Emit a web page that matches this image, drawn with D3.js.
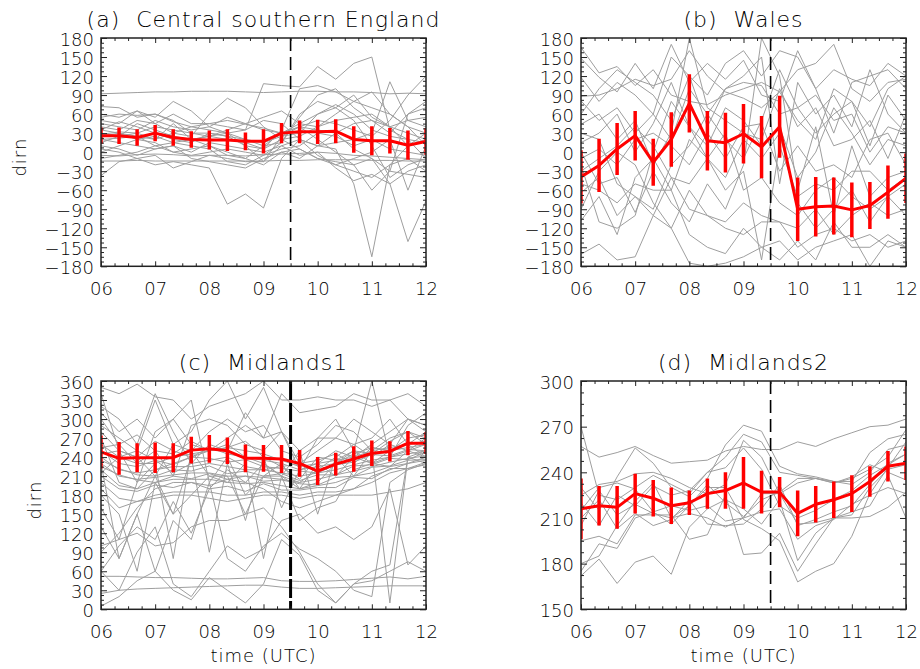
<!DOCTYPE html>
<html lang="en">
<head>
<meta charset="UTF-8">
<title>dirn ensemble</title>
<script src="https://cdn.jsdelivr.net/npm/d3@7"></script>
<style>
    body { margin: 0; background: #fff; }
    text { font-family: "DejaVu Sans", sans-serif; font-weight: 200; fill: #000; }
</style>
</head>
<body>
<div id="mainContent"></div>
<script>
    // ---- data ----
    const times = ["06:00", "06:20", "06:40", "07:00", "07:20", "07:40", "08:00", "08:20", "08:40", "09:00",
        "09:20", "09:40", "10:00", "10:20", "10:40", "11:00", "11:20", "11:40", "12:00"];
    const hourTicks = ["06", "07", "08", "09", "10", "11", "12"];
    const onsetTime = "09:30";

    const dirTicks = [-180, -150, -120, -90, -60, -30, 0, 30, 60, 90, 120, 150, 180];
    const dirTicksC = [0, 30, 60, 90, 120, 150, 180, 210, 240, 270, 300, 330, 360];
    const dirTicksD = [150, 180, 210, 240, 270, 300];

    const meanA = [26, 26, 23, 30, 23, 20, 19, 19, 17, 17, 30, 32, 32, 33, 20, 18, 18, 11, 17];
    const errA = [13, 13, 13, 13, 13, 13, 15, 17, 14, 19, 16, 18, 19, 19, 21, 23, 20, 23, 21];
    const meanB = [-39, -21, 5, 26, -16, 20, 77, 18, 15, 29, 8, 40, -90, -86, -85, -91, -84, -63, -41];
    const errB = [42, 42, 41, 39, 37, 43, 46, 47, 47, 47, 49, 49, 50, 47, 45, 43, 37, 42, 39];
    const meanC = [248, 238, 239, 239, 239, 251, 253, 250, 238, 238, 237, 230, 218, 229, 237, 246, 249, 262, 262];
    const errC = [26, 26, 23, 24, 23, 21, 22, 21, 22, 21, 22, 21, 22, 18, 20, 20, 16, 19, 17];
    const meanD = [216, 218, 217, 226, 223, 218, 220, 226, 228, 233, 227, 227, 213, 219, 222, 226, 234, 244, 246];
    const errD = [20, 13, 14, 13, 12, 12, 8, 10, 12, 17, 14, 10, 15, 12, 12, 12, 10, 10, 11];

    const membersA = [
        [92, 93, 94, 95, 95, 96, 96, 96, 95, 94, 95, 96, 96, 95, 95, 94, 92, 93, 92],
        [-14, -14, -13, -14, -14, -14, -14, -14, -14, -14, -13, -13, -12, -12, -12, -13, -13, -14, -14],
        [-5, -6, -4, -3, -4, -6, -5, -5, -6, -4, -3, -2, 0, -2, -5, -6, -8, -10, -12],
        [72, 70, 55, 60, 48, 40, 45, 50, 44, 38, 30, 45, 60, 75, 60, 35, 25, 20, 15],
        [50, 45, 65, 55, 80, 65, 40, 30, 20, 10, 15, 55, 90, 100, 70, 50, 40, 30, 20],
        [40, 35, 50, 45, 30, 25, 60, 85, 70, 40, 20, 5, -10, -20, -30, -40, -20, -10, -30],
        [35, 48, 40, 30, 20, 15, 30, 25, 10, 5, 35, 100, 105, 95, 80, 70, 60, 40, 30],
        [30, 25, 45, 35, 25, 20, 10, 0, -10, 10, 30, 40, 35, 30, 45, 50, 30, 60, 80],
        [25, 30, 20, 25, 15, 10, 5, -15, -20, -5, 15, 60, 80, 70, 50, 10, -40, -20, -10],
        [20, 15, 10, 5, 10, 0, 15, 10, 5, 0, 10, 20, 10, 5, -50, -165, -20, 10, 30],
        [15, 25, 30, 20, 45, 20, 25, 30, 35, 108, 105, 103, 135, 115, 140, 150, 35, 20, -10],
        [10, 5, -5, 5, 10, -10, -15, -20, -25, -10, 0, 5, -10, -15, -20, -60, -30, -35, -40],
        [5, 0, -10, -5, -25, -15, -5, -10, -15, -15, 10, -5, 0, -25, -45, -35, -50, -141, -77],
        [-37, -15, -10, -20, -15, -20, -25, -82, -66, -88, -10, 20, 10, 15, 20, 30, 111, 50, 40],
        [55, 60, 58, 60, 50, 30, 25, 20, 15, 5, 20, 25, 40, 50, 55, 60, 40, 50, 55],
        [45, 40, 35, 50, 40, 35, 40, 55, 45, 35, 30, 40, 50, 45, 35, 25, 50, 90, 120],
        [28, 32, 30, 40, 35, 30, 30, 25, 20, 15, 25, 30, 60, 70, 90, 55, 40, 10, 20],
        [0, 10, 20, 15, 0, 5, 10, -5, -10, -20, 0, -10, 10, 30, 5, -10, -30, 60, 70],
        [60, 55, 65, 45, 60, 45, 45, 40, 35, 50, 45, 20, -5, -20, -10, 0, 20, -60, 10],
        [-10, -5, 0, 10, 0, -5, 0, 5, 0, -5, 5, 10, 30, 25, 10, 20, 5, 0, -5],
        [20, 22, 25, 20, 30, 40, 35, 30, 10, -15, 25, 40, 20, 0, -20, -10, -50, -30, -20],
        [35, 30, 25, 10, 15, 20, 25, 35, 45, 55, 65, 45, 40, 60, 80, 95, 60, 40, 10]
    ];

    const membersB = [
        [165, 125, 135, 105, 130, 90, 80, 75, 90, 100, 110, 95, 130, 140, 170, 100, 80, 110, 115],
        [148, 118, 95, 140, 100, 170, 110, 140, 115, 145, 90, 80, 160, 100, 130, 115, 105, 140, 120],
        [118, 80, 110, 90, 60, 150, 120, 40, 100, 120, 150, -50, 110, 60, 90, 40, 130, 60, 30],
        [88, 90, 100, 115, 105, 115, 160, 120, 95, 85, 70, 95, 50, 20, 100, 80, 40, 100, 120],
        [81, 50, 70, 30, 60, 20, 100, 60, 100, 110, 105, 60, 70, 90, 50, 60, 0, 40, 30],
        [44, 60, 20, 50, -20, 30, 180, 70, 50, 30, 20, 100, 40, 70, 10, 20, 50, -10, 60],
        [15, 30, 60, 0, 45, 110, 40, 10, 70, 50, 10, 40, -40, 0, 70, 30, -20, 20, 10],
        [-10, 5, -20, 20, 30, 10, -20, 30, -10, 40, 45, -30, 10, -30, -20, -40, 20, 30, -20],
        [-30, -10, 10, 40, 10, -40, -50, -10, -60, -30, -170, 10, -70, -50, -60, -30, -30, -60, -40],
        [-50, -60, -80, -50, -60, -60, 20, -10, 30, -60, -40, -80, -100, -60, -40, -70, -90, -70, -50],
        [-64, -40, -100, -70, -100, -40, -90, -100, -110, -80, -100, -110, -120, -90, -130, -100, -80, -100, -90],
        [-90, -30, 0, -20, -80, -120, -60, -100, -120, -130, -110, -110, -150, -130, -120, -140, -130, -150, -140],
        [-108, -70, -130, -40, -10, -60, -130, -150, -160, -120, -150, -170, -140, -170, -110, -150, -150, -130, -150],
        [-161, -145, -170, -165, -100, -120, -175, -180, -175, -165, -150, -140, -170, -150, -140, -130, -180, -140, -150],
        [30, 20, -50, -70, -90, -20, 10, 60, 20, -10, 50, 130, 70, 30, 60, 80, 10, 90, 50],
        [-20, -110, -120, -100, 0, 80, 40, -10, -40, 20, -10, 30, -80, -120, -90, -60, -110, -70, -100],
        [0, -50, -40, -95, -30, -80, -110, -50, -90, -20, 180, 120, -60, 40, -100, 10, -70, -40, -30],
        [60, 100, 130, 110, 90, 50, 120, 90, 140, 160, 120, 160, 150, 100, 30, 110, 120, 130, 100]
    ];

    const membersC = [
        [52, 52, 51, 50, 50, 49, 48, 48, 49, 50, 45, 44, 44, 45, 47, 49, 51, 48, 52],
        [25, 30, 32, 33, 34, 35, 36, 37, 38, 38, 35, 33, 33, 34, 35, 36, 37, 37, 37],
        [5, 20, 45, 60, 30, 15, 50, 30, 10, 40, 110, 85, 30, 10, 40, 45, 60, 75, 60],
        [60, 30, 90, 130, 40, 20, 60, 100, 80, 95, 140, 150, 120, 130, 110, 130, 190, 70, 100],
        [130, 80, 150, 60, 140, 110, 200, 80, 60, 100, 120, 95, 80, 60, 30, 20, 200, 220, 230],
        [100, 110, 120, 100, 105, 130, 140, 140, 150, 160, 130, 90, 40, 10, 40, 60, 70, 240, 230],
        [350, 340, 355, 335, 330, 300, 320, 330, 340, 360, 330, 330, 335, 330, 330, 320, 330, 300, 290],
        [320, 300, 260, 340, 280, 230, 260, 250, 310, 270, 340, 310, 315, 320, 340, 330, 330, 340, 320],
        [300, 260, 230, 250, 210, 290, 300, 290, 260, 250, 280, 230, 250, 270, 300, 280, 260, 300, 290],
        [280, 250, 240, 210, 260, 250, 280, 300, 280, 290, 250, 240, 260, 290, 280, 250, 270, 280, 260],
        [270, 200, 190, 220, 230, 240, 250, 260, 240, 230, 210, 200, 220, 240, 260, 240, 260, 250, 270],
        [260, 240, 230, 230, 240, 245, 250, 255, 250, 245, 235, 225, 230, 235, 240, 250, 255, 260, 265],
        [250, 230, 225, 235, 228, 240, 238, 232, 236, 225, 222, 218, 215, 228, 232, 244, 242, 252, 250],
        [240, 220, 215, 220, 225, 225, 230, 225, 220, 220, 215, 210, 215, 220, 228, 235, 240, 245, 250],
        [235, 222, 212, 210, 220, 218, 226, 214, 218, 210, 214, 203, 212, 212, 226, 228, 238, 236, 248],
        [230, 210, 205, 208, 212, 215, 215, 210, 210, 208, 205, 200, 205, 212, 218, 225, 232, 238, 242],
        [225, 212, 204, 200, 210, 206, 214, 205, 210, 202, 204, 198, 196, 208, 210, 224, 226, 235, 236],
        [220, 195, 190, 200, 205, 205, 205, 200, 198, 200, 195, 190, 195, 200, 210, 215, 225, 230, 235],
        [210, 190, 186, 196, 192, 200, 190, 194, 186, 198, 188, 188, 192, 192, 208, 206, 222, 222, 232],
        [200, 175, 170, 180, 185, 185, 185, 180, 180, 185, 185, 180, 185, 185, 190, 200, 215, 222, 228],
        [190, 160, 170, 175, 180, 180, 175, 170, 175, 180, 180, 175, 180, 180, 180, 180, 185, 190, 200],
        [180, 150, 60, 200, 150, 240, 90, 230, 140, 240, 160, 220, 230, 250, 240, 230, 250, 260, 240],
        [160, 110, 200, 230, 80, 250, 210, 200, 230, 80, 210, 250, 150, 240, 210, 250, 10, 240, 250],
        [60, 100, 130, 110, 170, 120, 190, 220, 200, 230, 210, 190, 230, 210, 240, 260, 280, 300, 280],
        [290, 270, 250, 330, 260, 280, 330, 360, 300, 350, 280, 250, 270, 300, 250, 230, 240, 290, 310],
        [310, 280, 300, 270, 300, 260, 250, 270, 290, 270, 280, 220, 270, 270, 260, 270, 300, 260, 280],
        [245, 250, 240, 265, 250, 240, 255, 245, 240, 235, 230, 220, 225, 230, 245, 255, 250, 270, 275],
        [255, 260, 275, 250, 245, 265, 250, 255, 265, 240, 225, 205, 240, 235, 250, 245, 265, 280, 270],
        [215, 240, 250, 235, 215, 230, 235, 240, 225, 220, 225, 230, 235, 245, 230, 255, 250, 255, 260],
        [340, 250, 200, 280, 300, 330, 200, 240, 180, 210, 230, 190, 200, 230, 250, 360, 240, 250, 260],
        [90, 120, 160, 190, 200, 200, 195, 205, 200, 190, 170, 160, 170, 180, 190, 210, 220, 230, 240],
        [230, 80, 150, 210, 150, 180, 210, 210, 150, 210, 210, 140, 160, 170, 220, 230, 225, 250, 240]
    ];

    const membersD = [
        [257, 250, 253, 257, 251, 246, 247, 248, 254, 257, 255, 255, 260, 257, 262, 266, 270, 271, 275],
        [270, 225, 222, 230, 238, 232, 226, 240, 250, 265, 260, 240, 238, 236, 233, 236, 242, 250, 268],
        [230, 215, 237, 256, 246, 230, 224, 236, 258, 271, 267, 244, 239, 237, 234, 234, 253, 262, 265],
        [225, 232, 234, 239, 240, 236, 230, 226, 232, 261, 250, 226, 233, 236, 234, 232, 240, 255, 258],
        [220, 205, 225, 218, 231, 225, 228, 240, 243, 256, 242, 218, 210, 215, 222, 228, 238, 245, 252],
        [215, 230, 233, 229, 214, 206, 218, 232, 220, 211, 222, 227, 236, 236, 233, 237, 245, 240, 235],
        [210, 222, 203, 213, 205, 209, 222, 206, 205, 206, 216, 232, 205, 209, 214, 218, 232, 246, 252],
        [205, 228, 212, 219, 213, 210, 213, 210, 204, 210, 214, 216, 196, 205, 209, 219, 225, 230, 226],
        [195, 198, 193, 212, 212, 212, 196, 199, 225, 186, 187, 200, 175, 193, 210, 210, 211, 217, 227],
        [180, 185, 205, 221, 233, 210, 218, 230, 230, 209, 203, 195, 168, 175, 180, 198, 226, 243, 260],
        [172, 183, 167, 181, 185, 173, 204, 216, 222, 216, 206, 222, 182, 200, 210, 214, 218, 238, 210],
        [175, 193, 190, 210, 214, 218, 215, 218, 208, 210, 226, 226, 206, 207, 210, 212, 230, 242, 245]
    ];

    // ---- layout ----
    const W = 920, H = 669;
    const plotW = 325, plotH = 228.3;

    const panels = [
        {id: "a", title: "(a)  Central southern England", left: 101, top: 38,
            yDomain: [-180, 180], yTicks: dirTicks, dirnLabel: true, timeLabel: false,
            members: membersA, mean: meanA, err: errA, bold: false},
        {id: "b", title: "(b)  Wales", left: 581, top: 38,
            yDomain: [-180, 180], yTicks: dirTicks, dirnLabel: false, timeLabel: false,
            members: membersB, mean: meanB, err: errB, bold: false},
        {id: "c", title: "(c)  Midlands1", left: 101, top: 381,
            yDomain: [0, 360], yTicks: dirTicksC, dirnLabel: true, timeLabel: true,
            members: membersC, mean: meanC, err: errC, bold: true},
        {id: "d", title: "(d)  Midlands2", left: 581, top: 381,
            yDomain: [150, 300], yTicks: dirTicksD, dirnLabel: false, timeLabel: true,
            members: membersD, mean: meanD, err: errD, bold: false}
    ];

    const parseHour = s => {
        const p = s.split(":").map(Number);
        return p[0] + (p[1] || 0) / 60;
    };
    const tHours = times.map(parseHour);
    const hourVals = hourTicks.map(h => +h);

    // minor ticks: 4 sub-intervals between majors
    function minorTicks(majors) {
        let out = [];
        for (let i = 0; i < majors.length - 1; i++) {
            const step = (majors[i + 1] - majors[i]) / 4;
            for (let k = 1; k < 4; k++) out.push(majors[i] + k * step);
        }
        return out;
    }

    let svg = d3.select("#mainContent")
        .append("svg")
        .attr("width", W)
        .attr("height", H);

    panels.forEach(p => {
        const x = d3.scaleLinear().domain([6, 12]).range([0, plotW]);
        const y = d3.scaleLinear().domain(p.yDomain).range([plotH, 0]);

        let g = svg.append("g")
            .attr("transform", "translate(" + p.left + "," + p.top + ")");

        g.append("clipPath").attr("id", "clip-" + p.id)
            .append("rect").attr("width", plotW).attr("height", plotH);

        const plot = g.append("g").attr("clip-path", "url(#clip-" + p.id + ")");

        const line = d3.line()
            .x((d, i) => x(tHours[i]))
            .y(d => y(d));

        // ensemble members
        plot.append("g")
            .selectAll("path")
            .data(p.members).enter()
            .append("path")
            .attr("d", line)
            .attr("fill", "none")
            .attr("stroke", "#9e9e9e")
            .attr("stroke-width", 1);

        // onset marker
        const xOn = x(parseHour(onsetTime));
        plot.append("line")
            .attr("x1", xOn).attr("x2", xOn)
            .attr("y1", 0).attr("y2", plotH)
            .attr("stroke", "#000")
            .attr("stroke-width", p.bold ? 3 : 1.6)
            .attr("stroke-dasharray", p.bold ? "19,3" : "13,6");

        // mean and spread
        plot.append("g")
            .selectAll("line")
            .data(p.mean).enter()
            .append("line")
            .attr("x1", (d, i) => x(tHours[i]))
            .attr("x2", (d, i) => x(tHours[i]))
            .attr("y1", (d, i) => y(d - p.err[i]))
            .attr("y2", (d, i) => y(d + p.err[i]))
            .attr("stroke", "#ff0000")
            .attr("stroke-width", 3.5);

        plot.append("path")
            .datum(p.mean)
            .attr("d", line)
            .attr("fill", "none")
            .attr("stroke", "#ff0000")
            .attr("stroke-width", 3)
            .attr("stroke-linejoin", "round");

        // axes, ticks pointing inward on all four sides
        const axes = [
            {gen: d3.axisBottom(x), t: "translate(0," + plotH + ")", major: hourVals, minor: minorTicks(hourVals), len: 5, labels: true},
            {gen: d3.axisTop(x), t: "translate(0,0)", major: hourVals, minor: minorTicks(hourVals), len: 5, labels: false},
            {gen: d3.axisLeft(y), t: "translate(0,0)", major: p.yTicks, minor: minorTicks(p.yTicks), len: 6, labels: true},
            {gen: d3.axisRight(y), t: "translate(" + plotW + ",0)", major: p.yTicks, minor: minorTicks(p.yTicks), len: 6, labels: false}
        ];
        axes.forEach((a, ai) => {
            const gm = g.append("g").attr("transform", a.t)
                .call(a.gen.tickValues(a.minor).tickSize(-3).tickSizeOuter(0).tickFormat(""));
            gm.select(".domain").remove();
            const gM = g.append("g").attr("transform", a.t)
                .call(a.gen.tickValues(a.major).tickSize(-a.len).tickSizeOuter(0)
                    .tickPadding(ai === 0 ? 28.5 : 7)
                    .tickFormat(d => a.labels ? (ai === 0 ? d3.format("02d")(d) : String(d).replace("-", "\u2212")) : ""));
            gM.select(".domain").remove();
            g.selectAll(".tick line").attr("stroke", "#222").attr("stroke-width", 1);
            gM.selectAll("text")
                .attr("font-size", 18)
                .attr("font-family", "DejaVu Sans, sans-serif")
                .attr("font-weight", 200)
                .attr("fill", "#000");
            if (ai === 0) {
                gM.selectAll("text").attr("dy", "0em");
            }
            if (ai === 2) {
                gM.selectAll("text").attr("dy", "0.4em");
            }
        });

        // frame
        g.append("rect")
            .attr("width", plotW).attr("height", plotH)
            .attr("fill", "none")
            .attr("stroke", "#222")
            .attr("stroke-width", 1.5);

        // title
        g.append("text")
            .text(p.title)
            .attr("x", plotW / 2)
            .attr("y", -11)
            .attr("text-anchor", "middle")
            .attr("font-size", 22)
            .attr("letter-spacing", 1)
            .style("white-space", "pre");

        if (p.dirnLabel) {
            let minX = 0;
            g.selectAll("text").each(function () {
                const b = this.getBBox();
                if (this.textContent !== p.title && b.x < minX) minX = b.x;
            });
            g.append("text").text("dirn")
                .attr("transform", "translate(" + (minX - 19) + "," + (plotH / 2 + 5) + ") rotate(-90)")
                .attr("text-anchor", "middle")
                .attr("font-size", 18)
                .attr("letter-spacing", 1);
        }
        if (p.timeLabel) {
            g.append("text").text("time (UTC)")
                .attr("x", plotW / 2)
                .attr("y", plotH + 52.5)
                .attr("text-anchor", "middle")
                .attr("font-size", 18)
                .attr("letter-spacing", 1)
                .style("white-space", "pre");
        }
    });
</script>
</body>
</html>
